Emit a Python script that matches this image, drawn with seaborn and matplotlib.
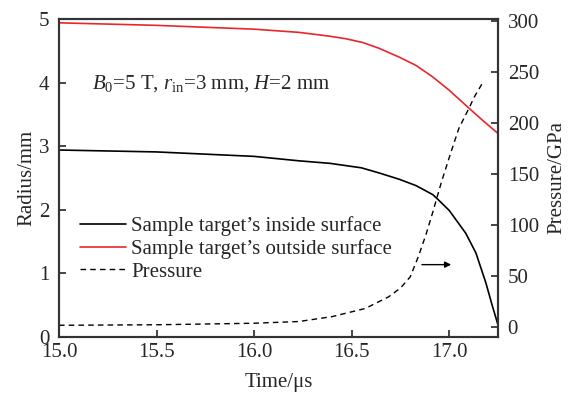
import numpy as np
import pandas as pd
import matplotlib
matplotlib.use("Agg")
import matplotlib.pyplot as plt
from matplotlib.lines import Line2D
import seaborn as sns

# ---- data ----
t_inside = [15.0, 15.5, 16.0, 16.23, 16.39, 16.55, 16.64, 16.744, 16.83, 16.915,
            16.94, 17.0, 17.085, 17.137, 17.188, 17.22, 17.25]
r_inside = [2.94, 2.91, 2.84, 2.77, 2.73, 2.66, 2.58, 2.48, 2.38, 2.24,
            2.17, 1.99, 1.63, 1.32, 0.85, 0.50, 0.19]

t_outside = [15.0, 15.5, 16.0, 16.23, 16.386, 16.47, 16.557, 16.64, 16.744, 16.83,
             16.915, 17.0, 17.097, 17.17, 17.25]
r_outside = [4.94, 4.90, 4.84, 4.79, 4.73, 4.69, 4.63, 4.54, 4.40, 4.27,
             4.09, 3.88, 3.61, 3.41, 3.20]

t_press = [15.0, 15.5, 16.0, 16.23, 16.40, 16.57, 16.69, 16.75, 16.80, 16.84,
           16.88, 16.915, 16.96, 17.01, 17.05, 17.10, 17.13, 17.167]
p_press = [1.5, 2.0, 3.5, 5.2, 10.0, 18.0, 29.5, 38.0, 49.0, 68.0,
           90.0, 112.0, 142.0, 172.0, 195.0, 214.0, 226.0, 238.0]

x_ticks = [15.0, 15.5, 16.0, 16.5, 17.0]
x_ticklabels = ["15.0", "15.5", "16.0", "16.5", "17.0"]
y_left_ticks = [0, 1, 2, 3, 4, 5]
y_right_ticks = [0, 50, 100, 150, 200, 250, 300]

labels = ["Sample target\u2019s inside surface",
          "Sample target\u2019s outside surface",
          "Pressure"]

sns.set_style("ticks")
plt.rcParams["font.family"] = ["Liberation Serif", "DejaVu Serif"]
plt.rcParams["mathtext.fontset"] = "custom"
plt.rcParams["mathtext.rm"] = "Liberation Serif"
plt.rcParams["mathtext.it"] = "Liberation Serif:italic"

fs = 15
fig = plt.figure(figsize=(5.7, 3.94), dpi=100)
ax = fig.add_axes([59 / 570, 1 - 337 / 394, (498 - 59) / 570, (337 - 19) / 394])
ax2 = ax.twinx()

df_in = pd.DataFrame({"t": t_inside, "r": r_inside})
df_out = pd.DataFrame({"t": t_outside, "r": r_outside})
df_p = pd.DataFrame({"t": t_press, "p": p_press})

red = "#e8262c"
sns.lineplot(data=df_in, x="t", y="r", ax=ax, color="black", lw=1.2, sort=False)
sns.lineplot(data=df_out, x="t", y="r", ax=ax, color=red, lw=1.2, sort=False)
sns.lineplot(data=df_p, x="t", y="p", ax=ax2, color="black", lw=1.0, sort=False,
             linestyle=(0, (4, 3)))

ax.set_xlim(15.0, 17.25)
ax.set_ylim(0, 5)
ax2.set_ylim(-10, 302)

ax.set_xticks(x_ticks)
ax.set_xticklabels(x_ticklabels)
ax.set_yticks(y_left_ticks)
ax2.set_yticks(y_right_ticks)

ax.set_xlabel("Time/\u03bcs", fontsize=fs, labelpad=8)
ax.set_ylabel("Radius/mm", fontsize=fs, labelpad=2)
ax2.set_ylabel("Pressure/GPa", fontsize=fs, labelpad=6)

for a in (ax, ax2):
    for s in a.spines.values():
        s.set_linewidth(1.5)
        s.set_color("#333333")
ax.tick_params(axis="both", direction="in", length=5, width=1.2, labelsize=fs,
               top=False, right=False)
ax.tick_params(axis="y", pad=7)
ax.tick_params(axis="x", pad=4)
ax2.tick_params(axis="y", direction="in", length=5, width=1.2, labelsize=fs, pad=7)

ax.text(15.17, 3.99, r"$\it{B}$$_0$=5 T, $\it{r}$$_{\rm in}$=3 mm, $\it{H}$=2 mm",
        fontsize=fs, va="center", ha="left")

ax2.annotate("", xy=(17.01, 61), xytext=(16.86, 61),
             arrowprops=dict(arrowstyle="-|>", color="black", lw=1.0,
                             mutation_scale=9, shrinkA=0, shrinkB=0))

handles = [Line2D([], [], color="black", lw=1.2),
           Line2D([], [], color=red, lw=1.2),
           Line2D([], [], color="black", lw=1.0, linestyle=(0, (4, 3)))]
ax.legend(handles, labels, loc="center left", bbox_to_anchor=(0.048, 0.277),
          frameon=False, fontsize=fs, handlelength=2.2, handletextpad=0.25,
          labelspacing=0.15, borderaxespad=0, borderpad=0)

fig.savefig("out.png", dpi=100)
